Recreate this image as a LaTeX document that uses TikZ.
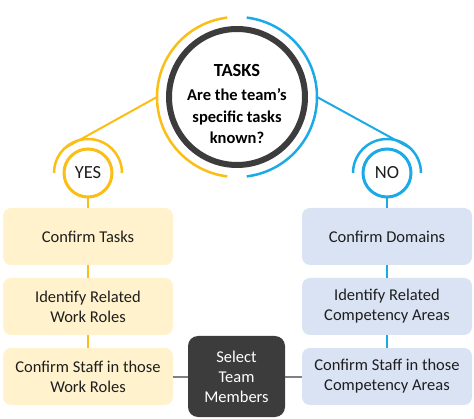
\documentclass[tikz,border=0pt]{standalone}
\usepackage{fontspec}
\setmainfont{Carlito}
\definecolor{ylw}{RGB}{250,190,20}
\definecolor{ylwfill}{HTML}{FFF2CC}
\definecolor{blu}{RGB}{28,170,230}
\definecolor{blufill}{HTML}{DAE3F3}
\definecolor{dark}{HTML}{3C3C3C}
\definecolor{conn}{HTML}{808080}
\definecolor{txt}{HTML}{1E1E1E}
\begin{document}
\begin{tikzpicture}[x=1pt,y=1pt,
  lbox/.style={rounded corners=8pt, minimum width=170pt, minimum height=57pt,
    align=center, text=txt, font=\fontsize{16.5}{20}\selectfont, inner sep=0pt},
  ybox/.style={lbox, fill=ylwfill},
  bbox/.style={lbox, fill=blufill},
  ans/.style={circle, minimum size=48pt, line width=3pt, fill=white, inner sep=0pt,
    font=\fontsize{18.5}{20}\selectfont, text=txt},
  yline/.style={ylw, line width=2.5pt},
  bline/.style={blu, line width=2.5pt}]
\useasboundingbox (0,0) rectangle (474,418);

% central circle
\node[circle, draw=dark, line width=6pt, minimum size=136pt, fill=white, inner sep=0pt]
  (tasks) at (237,321) {};
\node[align=center, text=black, inner sep=0pt, font=\bfseries\fontsize{16.5}{21.5}\selectfont]
  (taskstext) at (237,314)
  {{\fontsize{18.5}{20}\selectfont TASKS}\\[3pt]
   Are the team’s\\specific tasks\\known?};
\draw[yline] ([shift={(97:80)}]tasks.center) arc[start angle=97, end angle=263, radius=80];
\draw[bline] ([shift={(83:80)}]tasks.center) arc[start angle=83, end angle=-83, radius=80];
\coordinate (ystart) at ([shift={(180:80)}]tasks.center);
\coordinate (bstart) at ([shift={(0:80)}]tasks.center);

% YES / NO
\node[ans, draw=ylw] (yes) at (88,245) {YES};
\node[ans, draw=blu] (no) at (387,245) {NO};
\draw[yline] ([shift={(0:34)}]yes.center) arc[start angle=0, end angle=180, radius=34];
\draw[bline] ([shift={(0:34)}]no.center) arc[start angle=0, end angle=180, radius=34];
\coordinate (yend) at ([shift={(133:34)}]yes.center);
\coordinate (bend) at ([shift={(47:34)}]no.center);
\draw[ylw, line width=2pt] (ystart) -- (yend);
\draw[blu, line width=2pt] (bstart) -- (bend);

% boxes
\node[ybox] (y1) at (88,181.5) {Confirm Tasks};
\node[ybox] (y2) at (88,111.5) {Identify Related\\Work Roles};
\node[ybox] (y3) at (88,41.5) {Confirm Staff in those\\Work Roles};
\node[bbox] (b1) at (387,181.5) {Confirm Domains};
\node[bbox] (b2) at (387,111.5) {Identify Related\\Competency Areas};
\node[bbox] (b3) at (387,41.5) {Confirm Staff in those\\Competency Areas};
\node[rounded corners=10pt, fill=dark, minimum width=97pt, minimum height=81pt,
  align=center, text=white, font=\fontsize{16.5}{20}\selectfont, inner sep=0pt]
  (sel) at (236.5,41.5) {Select\\Team\\Members};

% connectors
\draw[ylw, line width=2.5pt] (yes.south) -- (y1.north);
\draw[ylw, line width=2.5pt] (y1.south) -- (y2.north);
\draw[ylw, line width=2.5pt] (y2.south) -- (y3.north);
\draw[blu, line width=2.5pt] (no.south) -- (b1.north);
\draw[blu, line width=2.5pt] (b1.south) -- (b2.north);
\draw[blu, line width=2.5pt] (b2.south) -- (b3.north);
\draw[conn, line width=2.5pt] (y3.east |- 0,41) -- (sel.west |- 0,41);
\draw[conn, line width=2.5pt] (sel.east |- 0,41) -- (b3.west |- 0,41);
\end{tikzpicture}
\end{document}
